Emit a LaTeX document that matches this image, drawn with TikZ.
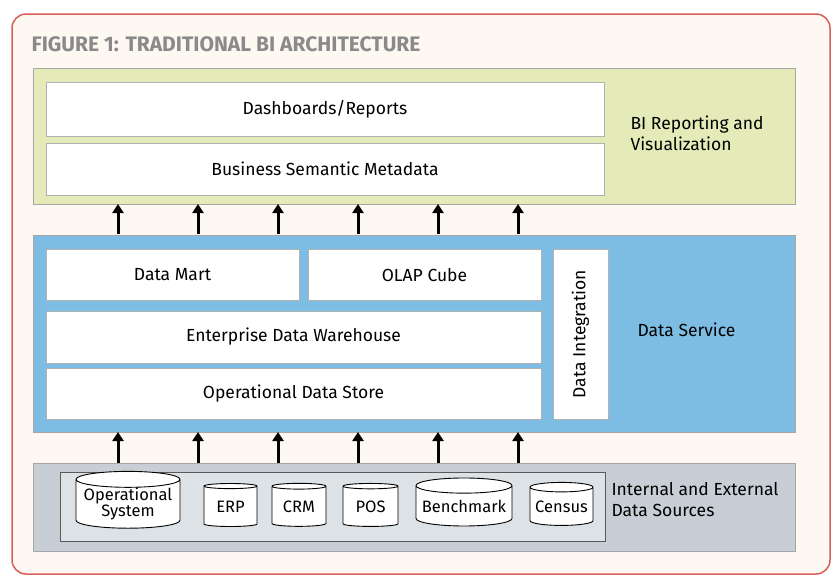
\documentclass[tikz,border=0pt]{standalone}
\usepackage{fontspec}
\setmainfont{Fira Sans}
\usetikzlibrary{shapes.geometric,arrows.meta}
\definecolor{frame}{HTML}{D9605A}
\definecolor{cream}{HTML}{FDF8F2}
\definecolor{lime}{HTML}{E4EBB8}
\definecolor{sky}{HTML}{7DBDE3}
\definecolor{slate}{HTML}{C7CED5}
\definecolor{titlegray}{HTML}{8A8A8A}
\tikzset{
  panel/.style={draw=gray!70,line width=0.8pt},
  box/.style={draw=gray!60,fill=white,line width=0.6pt,font=\fontsize{17.5}{19}\selectfont},
  up/.style={-{Triangle[length=9pt,width=11pt]},line width=3pt},
  db/.style={cylinder,shape border rotate=90,aspect=0.18,draw,line width=0.9pt,fill=white,
    inner sep=0pt,font=\fontsize{16.5}{14}\selectfont,align=center},
  lbl/.style={anchor=west,align=left,font=\fontsize{17.5}{21}\selectfont}
}
\begin{document}
\begin{tikzpicture}[x=1pt,y=-1pt]
\useasboundingbox (0,0) rectangle (840,584);
\fill[white] (0,0) rectangle (840,584);
\draw[frame,fill=cream,line width=1.5pt,rounded corners=14pt] (12,14) rectangle (830,574);
\node[anchor=west,text=titlegray,font=\bfseries\fontsize{21}{23}\selectfont] (title) at (28,44) {FIGURE 1: TRADITIONAL BI ARCHITECTURE};

% reporting layer
\draw[panel,fill=lime] (33,68) rectangle (795,204);
\node[box,minimum width=558pt,minimum height=54pt] (dash) at (325,109) {Dashboards/Reports};
\node[box,minimum width=558pt,minimum height=52pt] (meta) at (325,169) {Business Semantic Metadata};
\node[lbl] (bilbl) at (627,133) {BI Reporting and\\Visualization};

% data service layer
\draw[panel,fill=sky] (33,235) rectangle (795,432);
\node[box,minimum width=253pt,minimum height=51pt] (mart) at (172.5,275) {Data Mart};
\node[box,minimum width=233pt,minimum height=51pt] (olap) at (424.5,275) {OLAP Cube};
\node[box,minimum width=495pt,minimum height=52pt] (edw) at (293.5,337) {Enterprise Data Warehouse};
\node[box,minimum width=495pt,minimum height=51pt] (ods) at (293.5,393.5) {Operational Data Store};
\node[box,minimum width=55pt,minimum height=170pt] (integ) at (580.5,334) {};
\node[rotate=90,font=\fontsize{17.5}{19}\selectfont] (integlbl) at (integ.center) {Data Integration};
\node[lbl] (dslbl) at (634,330) {Data Service};

% source layer
\draw[panel,fill=slate] (33,463) rectangle (795,551);
\draw[gray!70!black,fill=slate!60,line width=0.8pt] (60,472) rectangle (605,541);
\node[db,minimum width=104pt,minimum height=52pt] (opsys) at (128,504) {Operational\\System};
\node[db,minimum width=53pt,minimum height=43pt] (erp) at (230.5,506.5) {ERP};
\node[db,minimum width=54pt,minimum height=43pt] (crm) at (299,506.5) {CRM};
\node[db,minimum width=55pt,minimum height=43pt] (pos) at (370.5,506.5) {POS};
\node[db,minimum width=96pt,minimum height=48pt] (bench) at (464,506) {Benchmark};
\node[db,minimum width=63pt,minimum height=43pt] (census) at (561.5,506.5) {Census};
\node[lbl] (srclbl) at (608,500) {Internal and External\\Data Sources};

% arrows between layers
\foreach \x [count=\i] in {118,198,278,358,438,518} {
  \coordinate (a\i) at (\x,234);
  \coordinate (b\i) at (\x,204);
  \coordinate (c\i) at (\x,463);
  \coordinate (d\i) at (\x,432);
  \draw[up] (a\i) -- (b\i);
  \draw[up] (c\i) -- (d\i);
}
\end{tikzpicture}
\end{document}
